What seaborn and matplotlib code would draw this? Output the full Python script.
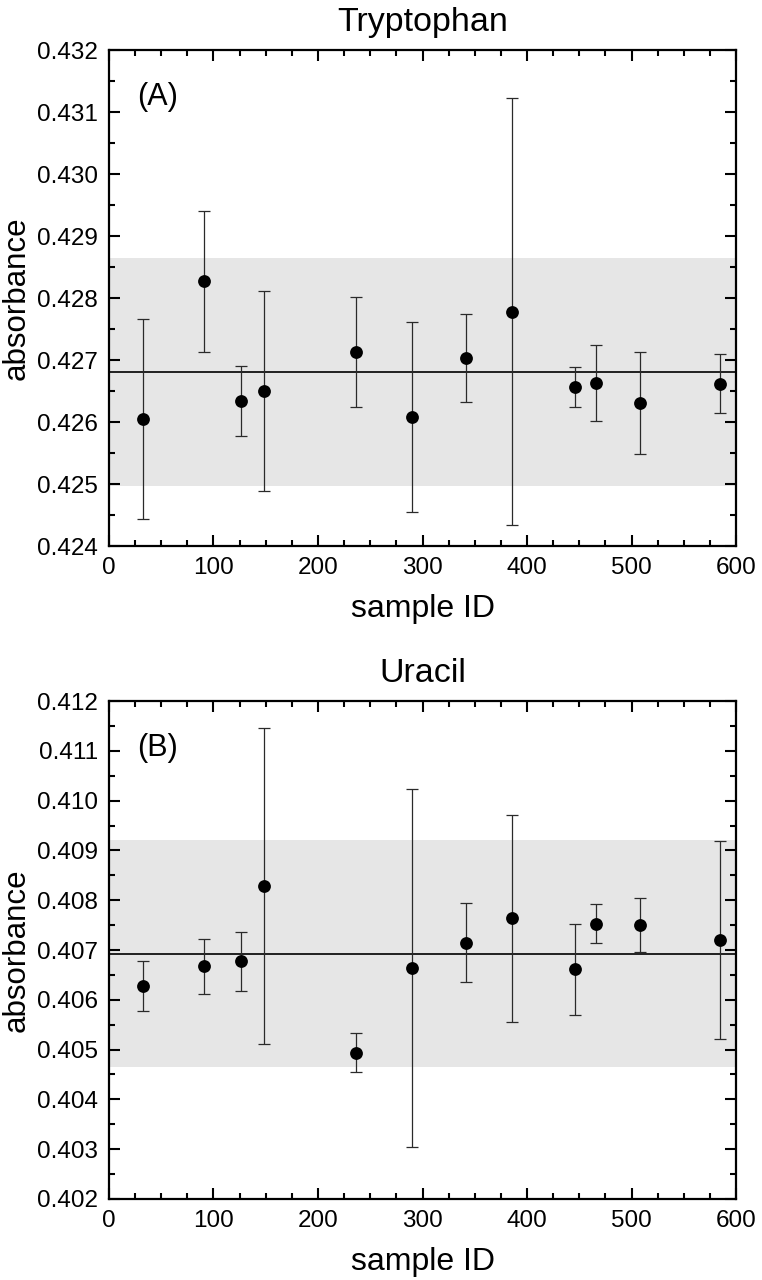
import numpy as np
import pandas as pd
import matplotlib
matplotlib.use("Agg")
import matplotlib.pyplot as plt
import seaborn as sns
from matplotlib.ticker import MultipleLocator, FormatStrFormatter

sample_id = [33, 91, 126, 148, 236, 290, 342, 386, 446, 466, 508, 585]

trp_abs = [0.42605, 0.42827, 0.42634, 0.42650, 0.42713, 0.42608,
           0.42704, 0.42778, 0.42657, 0.42663, 0.42631, 0.42662]
trp_err = [0.00162, 0.00114, 0.00057, 0.00162, 0.00088, 0.00153,
           0.00071, 0.00344, 0.00032, 0.00062, 0.00082, 0.00048]
trp_mean = 0.42681
trp_band = 0.00184

ura_abs = [0.40628, 0.40667, 0.40677, 0.40828, 0.40494, 0.40664,
           0.40715, 0.40764, 0.40661, 0.40753, 0.40750, 0.40720]
ura_err = [0.00050, 0.00056, 0.00060, 0.00317, 0.00039, 0.00360,
           0.00080, 0.00208, 0.00092, 0.00039, 0.00054, 0.00199]
ura_mean = 0.40693
ura_band = 0.00228

sns.set_style("ticks")
plt.rcParams['font.family'] = ['Liberation Sans', 'DejaVu Sans']
plt.rcParams['text.color'] = 'black'
plt.rcParams['axes.labelcolor'] = 'black'
plt.rcParams['xtick.color'] = 'black'
plt.rcParams['ytick.color'] = 'black'
plt.rcParams['axes.edgecolor'] = 'black'

fig = plt.figure(figsize=(7.62, 12.8), dpi=100)
ax_top = fig.add_axes([0.143, 0.5734, 0.823, 0.3875])
ax_bot = fig.add_axes([0.143, 0.0633, 0.823, 0.389])

panels = [
    (ax_top, "Tryptophan", "(A)", trp_abs, trp_err, trp_mean, trp_band, (0.424, 0.432)),
    (ax_bot, "Uracil", "(B)", ura_abs, ura_err, ura_mean, ura_band, (0.402, 0.412)),
]

for ax, title, tag, vals, errs, mean, band, ylim in panels:
    df = pd.DataFrame({"sample ID": sample_id, "absorbance": vals, "err": errs})

    # mean +/- band
    ax.axhspan(mean - band, mean + band, color="#e6e6e6", lw=0, zorder=0)
    ax.axhline(mean, color="#111111", lw=1.3, zorder=1)

    ax.errorbar(df["sample ID"], df["absorbance"], yerr=df["err"], fmt="none",
                ecolor="#2a2a2a", elinewidth=0.9, capsize=4, capthick=0.9, zorder=2)
    sns.scatterplot(data=df, x="sample ID", y="absorbance", color="black",
                    s=85, edgecolor="black", linewidth=0, zorder=3, ax=ax)

    ax.set_xlim(0, 600)
    ax.set_ylim(*ylim)
    ax.xaxis.set_major_locator(MultipleLocator(100))
    ax.xaxis.set_minor_locator(MultipleLocator(25))
    ax.yaxis.set_major_locator(MultipleLocator(0.001))
    ax.yaxis.set_minor_locator(MultipleLocator(0.0005))
    ax.yaxis.set_major_formatter(FormatStrFormatter("%.3f"))
    ax.tick_params(which="both", direction="in", top=True, right=True, width=1.5)
    ax.tick_params(which="major", length=8, labelsize=17.5, pad=8)
    ax.tick_params(which="minor", length=4.5)
    for sp in ax.spines.values():
        sp.set_linewidth(1.6)

    ax.set_title(title, fontsize=24.5, pad=14)
    ax.set_xlabel("sample ID", fontsize=23, labelpad=11)
    ax.set_ylabel("absorbance", fontsize=22.5, labelpad=4)
    ax.text(0.045, 0.905, tag, transform=ax.transAxes, fontsize=22,
            ha="left", va="center")

fig.savefig("out.png", dpi=100)
